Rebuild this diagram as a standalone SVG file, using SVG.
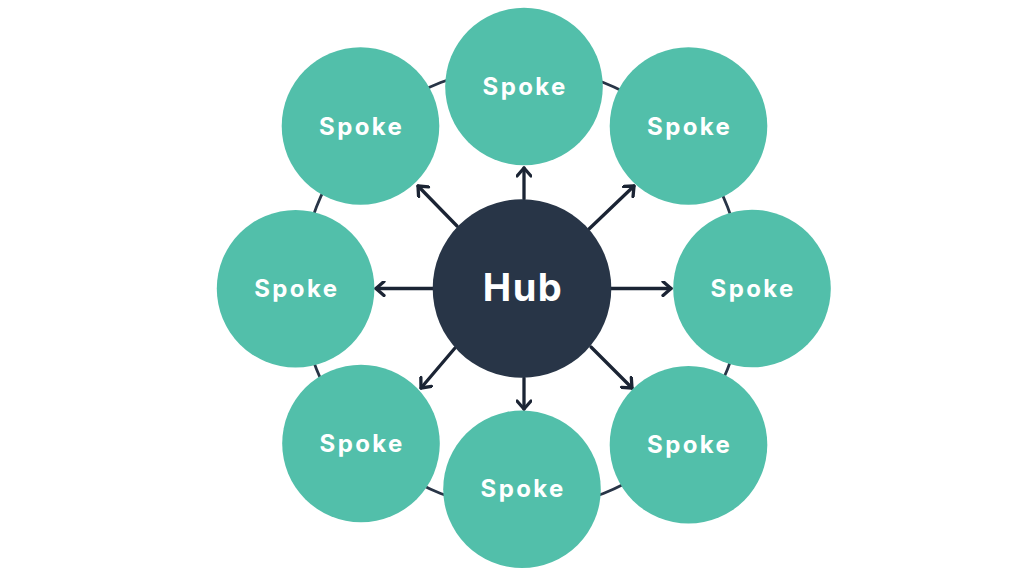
<svg xmlns="http://www.w3.org/2000/svg" width="1024" height="576" viewBox="0 0 1024 576">
<defs>
<style>
.spoke circle{fill:#52BFAA}
.spoke text{fill:#fff;font-family:Inter,"Noto Sans",sans-serif;font-weight:700;font-size:24px;letter-spacing:2.4px;text-anchor:middle}
.hub circle{fill:#283547}
.hub text{fill:#fff;font-family:Inter,"Noto Sans",sans-serif;font-weight:700;font-size:38px;letter-spacing:1.5px;text-anchor:middle}
.arrow{stroke:#1B2434;stroke-width:3.3;fill:none;stroke-linecap:round;marker-end:url(#ah)}
.ring{stroke:#283547;stroke-width:2.8;fill:none}
</style>
<marker id="ah" viewBox="-10 -8 12 16" markerWidth="12" markerHeight="16" refX="0" refY="0" orient="auto" markerUnits="userSpaceOnUse">
<polyline points="-8,-7 0,0 -8,7" fill="none" stroke="#1B2434" stroke-width="3.3" stroke-linecap="round" stroke-linejoin="round"/>
</marker>
</defs>
<rect width="1024" height="576" fill="#fff"/>
<g id="ring"><circle class="ring" cx="522" cy="288" r="221"/></g>
<g id="connectors">
<line class="arrow" x1="524" y1="199" x2="524" y2="168"/>
<line class="arrow" x1="524" y1="378" x2="524" y2="409"/>
<line class="arrow" x1="433" y1="288.5" x2="376" y2="288.5"/>
<line class="arrow" x1="611" y1="288.5" x2="671" y2="288.5"/>
<line class="arrow" x1="457" y1="226" x2="418" y2="186"/>
<line class="arrow" x1="589" y1="229" x2="634" y2="186"/>
<line class="arrow" x1="455" y1="348" x2="421" y2="388"/>
<line class="arrow" x1="591" y1="347" x2="632" y2="388"/>
</g>
<g id="hub" class="hub"><circle cx="522" cy="288.5" r="89.3"/><text x="523" y="301">Hub</text></g>
<g id="spoke-top" class="spoke"><circle cx="524" cy="86.5" r="78.8"/><text x="525.2" y="95">Spoke</text></g>
<g id="spoke-top-left" class="spoke"><circle cx="360.5" cy="126" r="78.8"/><text x="361.7" y="134.5">Spoke</text></g>
<g id="spoke-top-right" class="spoke"><circle cx="688.5" cy="126" r="78.8"/><text x="689.7" y="134.5">Spoke</text></g>
<g id="spoke-left" class="spoke"><circle cx="295.6" cy="288.7" r="78.8"/><text x="296.8" y="296.5">Spoke</text></g>
<g id="spoke-right" class="spoke"><circle cx="752" cy="288.5" r="78.8"/><text x="753.2" y="296.5">Spoke</text></g>
<g id="spoke-bottom-left" class="spoke"><circle cx="361" cy="443.5" r="78.8"/><text x="362.2" y="451.5">Spoke</text></g>
<g id="spoke-bottom" class="spoke"><circle cx="522" cy="489.2" r="78.8"/><text x="523.2" y="497">Spoke</text></g>
<g id="spoke-bottom-right" class="spoke"><circle cx="688.5" cy="444.7" r="78.8"/><text x="689.7" y="452.5">Spoke</text></g>
</svg>
